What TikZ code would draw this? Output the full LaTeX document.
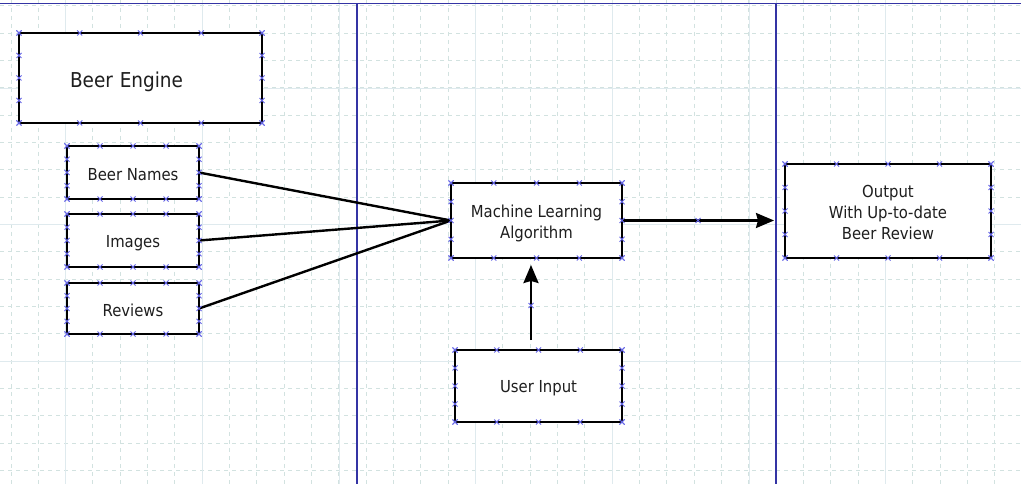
\documentclass[tikz,border=0pt]{standalone}
\usepackage{fontspec}
\setmainfont{DejaVu Sans Condensed}
\usetikzlibrary{calc,arrows.meta}
\definecolor{gridd}{HTML}{D2E2E0}
\definecolor{grids}{HTML}{DFEAEE}
\definecolor{lane}{HTML}{3434A4}
\definecolor{xcol}{HTML}{6464E6}
\definecolor{txt}{HTML}{1E1E1E}
\newcommand\boxmarks[1]{%
  \foreach \t in {0,0.25,0.5,0.75,1}{%
    \foreach \a/\b in {north west/north east,south west/south east,north west/south west,north east/south east}{%
      \draw[xm] ($(#1.\a)!\t!(#1.\b)$) +(-2.5,-2.5) -- +(2.5,2.5) +(-2.5,2.5) -- +(2.5,-2.5);
    }}}
\newcommand\midmark[1]{\draw[xm] #1 +(-2.5,-2.5) -- +(2.5,2.5) +(-2.5,2.5) -- +(2.5,-2.5);}
\newcommand\lo[2][2.5pt]{\raisebox{-#1}[\height][\depth]{#2}}
\begin{document}
\begin{tikzpicture}[x=1pt,y=-1pt,
  box/.style={draw=black, fill=white, line width=2.4pt, rectangle, inner sep=0pt, outer sep=0pt,
    align=center, text=txt, font=\fontsize{16.5}{20.5}\selectfont},
  conn/.style={line width=2.4pt, draw=black},
  arr/.style={conn, -{Stealth[length=18pt,width=15pt,inset=2pt]}},
  xm/.style={draw=xcol, line width=0.9pt},
  gd/.style={draw=gridd, line width=1pt, dash pattern=on 4pt off 4pt},
  gs/.style={draw=grids, line width=1pt},
  lanel/.style={draw=lane, line width=1.5pt}]
\useasboundingbox (0,0) rectangle (1021,484);
\fill[white] (0,0) rectangle (1021,484);
% grid
\foreach \i in {0,...,37} \draw[gd] ({11+27.333*\i},0) -- ({11+27.333*\i},484);
\foreach \j in {0,...,17} \draw[gd] (0,{6+27.333*\j}) -- (1021,{6+27.333*\j});
\foreach \i in {0,...,6} \draw[gs] ({65.7+136.667*\i},0) -- ({65.7+136.667*\i},484);
\foreach \j in {0,...,2} \draw[gs] (0,{88.3+136.667*\j}) -- (1021,{88.3+136.667*\j});
% lanes
\draw[lanel] (0,3.3) -- (1021,3.3);
\draw[lanel] (357,3.3) -- (357,484);
\draw[lanel] (776,3.3) -- (776,484);
% nodes
\node[box, minimum width=243pt, minimum height=90pt, text width=141pt, inner xsep=51pt, align=left,
  font=\fontsize{20.5}{24}\selectfont] (engine) at (140.5,78) {\lo[4pt]{Beer Engine}};
\node[box, minimum width=132pt, minimum height=53pt] (names) at (133,172.5) {\lo{Beer Names}};
\node[box, minimum width=132pt, minimum height=53pt] (images) at (133,240.5) {\lo{Images}};
\node[box, minimum width=132pt, minimum height=51pt] (reviews) at (133,308.5) {\lo[2pt]{Reviews}};
\node[box, minimum width=171pt, minimum height=75pt] (ml) at (536.5,220.5) {\lo[3pt]{Machine Learning}\\\lo[3pt]{Algorithm}};
\node[box, minimum width=167pt, minimum height=72pt] (user) at (538.5,386) {\lo{User Input}};
\node[box, minimum width=206pt, minimum height=94pt, font=\fontsize{16.5}{21.3}\selectfont] (output) at (888,211) {\lo[1.5pt]{Output}\\\lo[1.5pt]{With Up-to-date}\\\lo[1.5pt]{Beer Review}};
% connectors
\draw[conn] (names.east) -- (ml.west);
\draw[conn] (images.east) -- (ml.west);
\draw[conn] (reviews.east) -- (ml.west);
\draw[arr, shorten >=11pt] (ml.east) -- (ml.east -| output.west);
\coordinate (ua) at ([xshift=-7.5pt]user.north);
\draw[arr, shorten <=10pt, shorten >=7pt] (ua) -- (ua |- ml.south);
% marks
\foreach \n in {engine,names,images,reviews,ml,user,output} {\boxmarks{\n}}
\midmark{($(ml.east)!0.5!([xshift=-11pt]ml.east -| output.west)$)}
\midmark{($([yshift=-10pt]ua)!0.5!([yshift=7pt]ua |- ml.south)$)}
\end{tikzpicture}
\end{document}
